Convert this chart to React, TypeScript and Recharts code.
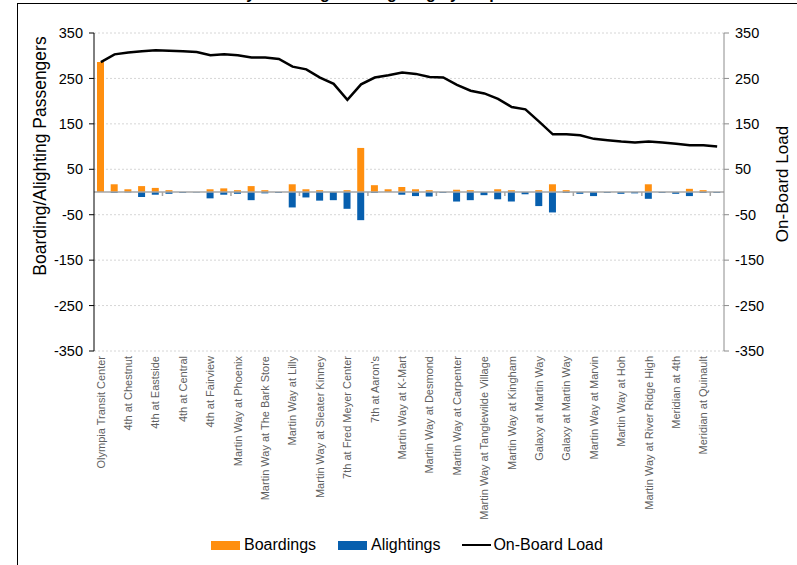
import { Bar, CartesianGrid, ComposedChart, Line, ReferenceLine, XAxis, YAxis } from 'recharts'

// stops along the route (only every other one is labelled on the axis)
const stops = [
  'Olympia Transit Center', 'Stop 2',
  '4th at Chestnut', 'Stop 4',
  '4th at Eastside', 'Stop 6',
  '4th at Central', 'Stop 8',
  '4th at Fairview', 'Stop 10',
  'Martin Way at Phoenix', 'Stop 12',
  'Martin Way at The Bark Store', 'Stop 14',
  'Martin Way at Lilly', 'Stop 16',
  'Martin Way at Sleater Kinney', 'Stop 18',
  '7th at Fred Meyer Center', 'Stop 20',
  "7th at Aaron's", 'Stop 22',
  'Martin Way at K-Mart', 'Stop 24',
  'Martin Way at Desmond', 'Stop 26',
  'Martin Way at Carpenter', 'Stop 28',
  'Martin Way at Tanglewilde Village', 'Stop 30',
  'Martin Way at Kingham', 'Stop 32',
  'Galaxy at Martin Way', 'Stop 34',
  'Galaxy at Martin Way', 'Stop 36',
  'Martin Way at Marvin', 'Stop 38',
  'Martin Way at Hoh', 'Stop 40',
  'Martin Way at River Ridge High', 'Stop 42',
  'Meridian at 4th', 'Stop 44',
  'Meridian at Quinault', 'Stop 46',
]

const boardings = [
  286, 17, 6, 13, 9, 4, 0, 0, 6, 8, 4, 13, 4, 0, 17, 6, 4, 0, 4, 97, 15, 6, 11,
  6, 4, 0, 5, 4, 0, 6, 4, 0, 4, 17, 4, 0, 0, 0, 0, 0, 17, 0, 0, 7, 4, 0,
]

const alightings = [
  0, -2, -1, -11, -6, -4, -2, -1, -14, -6, -4, -18, -3, -2, -34, -12, -19, -18,
  -37, -62, -2, 0, -6, -9, -10, -2, -21, -18, -7, -16, -21, -5, -31, -45, -2,
  -4, -9, -2, -4, -3, -15, -2, -4, -9, -2, -2,
]

const onBoardLoad = [
  286, 303, 307, 310, 312, 311, 310, 308, 301, 303, 301, 296, 296, 293, 276,
  270, 252, 238, 203, 237, 252, 257, 263, 260, 253, 252, 236, 223, 217, 205,
  187, 182, 155, 127, 127, 125, 117, 114, 111, 109, 111, 109, 106, 103, 103, 100,
]

const yTicks = [350, 250, 150, 50, -50, -150, -250, -350]

const ORANGE = '#ff8f0f'
const BLUE = '#075fae'
const FONT = '"Liberation Sans", Arial, sans-serif'

const data = stops.map((stop, i) => ({
  stop,
  boardings: boardings[i],
  alightings: alightings[i],
  load: onBoardLoad[i],
}))

const StopTick = ({ x, payload }: { x: number; payload: { value: string } }) => {
  const y = 356
  return (
    <text
      x={x}
      y={y}
      dy="0.35em"
      textAnchor="end"
      transform={`rotate(-90, ${x}, ${y})`}
      fill="#5f5f5f"
      fontSize={11}
      fontFamily={'"Liberation Sans Narrow", "Liberation Sans", Arial, sans-serif'}
    >
      {payload.value}
    </text>
  )
}

// zero line with the little category ticks every 5 stops, like the excel axis
const ZeroAxis = (props: any) => {
  const { x1, x2, y1 } = props
  if (x1 == null || x2 == null || y1 == null) return null
  const step = (x2 - x1) / stops.length
  const marks = []
  for (let k = 5; k < stops.length; k += 5) {
    const x = x1 + k * step
    marks.push(<line key={k} x1={x} x2={x} y1={y1} y2={y1 + 4} stroke="#a6a6a6" strokeWidth={1.5} />)
  }
  return (
    <g>
      <line x1={x1} x2={x2} y1={y1} y2={y1} stroke="#a6a6a6" strokeWidth={1.5} />
      {marks}
    </g>
  )
}

const LegendItem = ({ color, label, line }: { color: string; label: string; line?: boolean }) => (
  <div style={{ display: 'flex', alignItems: 'center', marginRight: 22 }}>
    <span
      style={{
        display: 'inline-block',
        width: 29,
        height: line ? 2 : 9,
        background: color,
        marginRight: line ? 2 : 4,
      }}
    />
    <span>{label}</span>
  </div>
)

export default function App() {
  return (
    <div
      style={{
        position: 'absolute',
        left: 0,
        top: 0,
        width: 797,
        height: 565,
        overflow: 'hidden',
        background: '#fff',
        fontFamily: FONT,
      }}
    >
      <div
        style={{
          position: 'absolute',
          left: 17,
          top: 3,
          width: 800,
          height: 600,
          border: '1.5px solid #000',
          boxSizing: 'border-box',
        }}
      />
      <div
        style={{
          position: 'absolute',
          left: 186,
          top: -14,
          fontSize: 16,
          lineHeight: '16px',
          fontWeight: 'bold',
          whiteSpace: 'nowrap',
        }}
      >
        Weekday Boarding and Alighting by Stop
      </div>

      <div style={{ position: 'absolute', left: 0, top: 0 }}>
        <ComposedChart
          width={797}
          height={565}
          data={data}
          stackOffset="sign"
          margin={{ top: 33, right: 13, bottom: 0, left: 34 }}
        >
          <CartesianGrid yAxisId="left" vertical={false} stroke="#d6d6d6" strokeDasharray="2 2" />
          <XAxis
            dataKey="stop"
            height={214}
            interval={1}
            axisLine={false}
            tickLine={false}
            tick={StopTick}
          />
          <YAxis
            yAxisId="left"
            width={60}
            domain={[-350, 350]}
            ticks={yTicks}
            allowDataOverflow
            stroke="#000"
            tickSize={5}
            tickMargin={6}
            tick={{ fill: '#000', fontSize: 14.5, fontFamily: FONT }}
          />
          <YAxis
            yAxisId="right"
            orientation="right"
            width={60}
            domain={[-350, 350]}
            ticks={yTicks}
            allowDataOverflow
            stroke="#8c8c8c"
            tickSize={5}
            tickMargin={6}
            tick={{ fill: '#000', fontSize: 14.5, fontFamily: FONT }}
          />
          <ReferenceLine yAxisId="left" y={0} shape={ZeroAxis} />
          <Bar yAxisId="left" dataKey="boardings" stackId="s" fill={ORANGE} barSize={7} isAnimationActive={false} />
          <Bar yAxisId="left" dataKey="alightings" stackId="s" fill={BLUE} barSize={7} isAnimationActive={false} />
          <Line
            yAxisId="right"
            type="linear"
            dataKey="load"
            stroke="#000"
            strokeWidth={2.5}
            dot={false}
            isAnimationActive={false}
          />
        </ComposedChart>
      </div>

      <div
        style={{
          position: 'absolute',
          left: 40,
          top: 156,
          transform: 'translate(-50%, -50%) rotate(-90deg)',
          fontSize: 17.5,
          whiteSpace: 'nowrap',
        }}
      >
        Boarding/Alighting Passengers
      </div>
      <div
        style={{
          position: 'absolute',
          left: 783,
          top: 184,
          transform: 'translate(-50%, -50%) rotate(-90deg)',
          fontSize: 17,
          whiteSpace: 'nowrap',
        }}
      >
        On-Board Load
      </div>

      <div
        style={{
          position: 'absolute',
          left: 211,
          top: 536,
          display: 'flex',
          fontSize: 16,
          lineHeight: '18px',
        }}
      >
        <LegendItem color={ORANGE} label="Boardings" />
        <LegendItem color={BLUE} label="Alightings" />
        <LegendItem color="#000" label="On-Board Load" line />
      </div>
    </div>
  )
}
